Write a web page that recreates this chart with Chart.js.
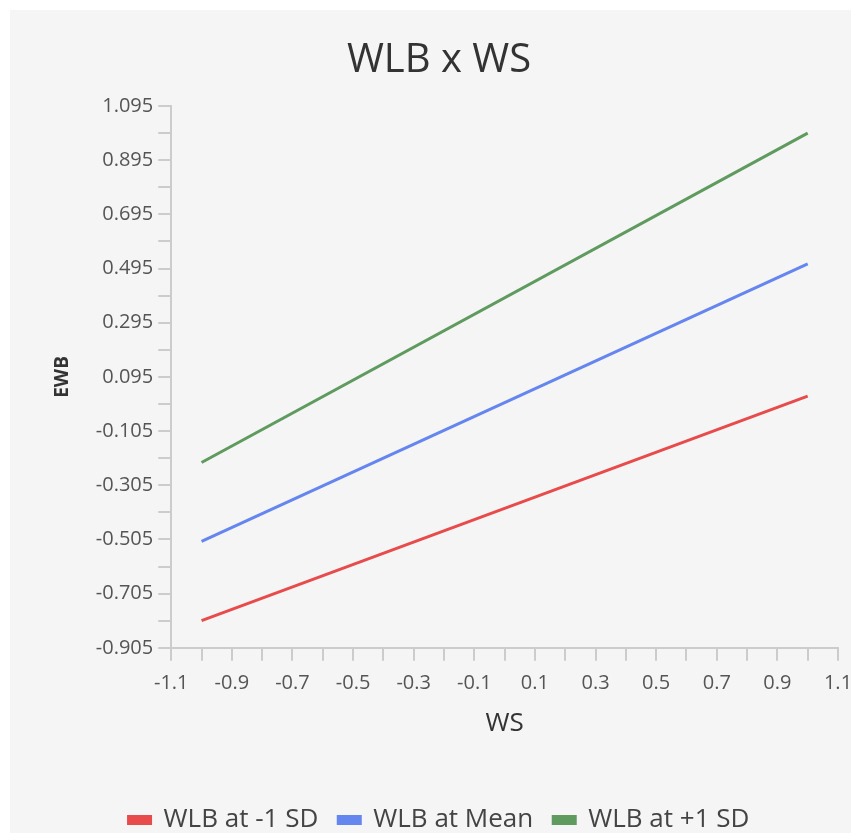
<!DOCTYPE html>
<html>
<head>
<meta charset="utf-8">
<script src="https://cdn.jsdelivr.net/npm/chart.js@4/dist/chart.umd.min.js"></script>
<style>
  html, body { margin: 0; padding: 0; background: #ffffff; overflow: hidden; }
  #wrap { position: absolute; left: 10px; top: 10px; width: 860px; height: 850px; background: #f5f5f5; }
</style>
</head>
<body>
<div id="wrap"><canvas id="myChart" width="860" height="850"></canvas></div>
<script>
// values
var wsValues = [-1, 1];
var lowSD = [-0.805, 0.024];
var meanSD = [-0.512, 0.512];
var highSD = [-0.221, 0.995];

var seriesNames = ['WLB at -1 SD', 'WLB at Mean', 'WLB at +1 SD'];
var seriesColors = ['#e84b4b', '#6585ef', '#5f9a5f'];

var xTickLabels = ['-1.1', '-0.9', '-0.7', '-0.5', '-0.3', '-0.1', '0.1', '0.3', '0.5', '0.7', '0.9', '1.1'];
var yTickLabels = ['-0.905', '-0.705', '-0.505', '-0.305', '-0.105', '0.095', '0.295', '0.495', '0.695', '0.895', '1.095'];

function points(ys) {
  return wsValues.map(function (x, i) { return { x: x, y: ys[i] }; });
}

// ticks every 0.1, only every other one gets a label
function minorTicks(labels) {
  var out = [];
  for (var i = 0; i < labels.length; i++) {
    var v = parseFloat(labels[i]);
    out.push({ value: v });
    if (i < labels.length - 1) out.push({ value: Math.round((v + 0.1) * 1000) / 1000 });
  }
  return out;
}

var seriesData = [lowSD, meanSD, highSD];
var datasets = seriesData.map(function (ys, i) {
  return {
    label: seriesNames[i],
    data: points(ys),
    showLine: true,
    borderColor: seriesColors[i],
    backgroundColor: seriesColors[i],
    borderWidth: 3,
    pointRadius: 0,
    pointHoverRadius: 0
  };
});

var axisColor = '#cccccc';
var ctx = document.getElementById('myChart').getContext('2d');
var myChart = new Chart(ctx, {
  type: 'scatter',
  data: { datasets: datasets },
  options: {
    responsive: false,
    animation: false,
    layout: { padding: { left: 30, right: 32, top: 0, bottom: 17 } },
    plugins: {
      title: {
        display: true,
        text: 'WLB x WS',
        color: '#333333',
        font: { family: 'Open Sans', size: 40, weight: 'normal' },
        padding: { top: 27, bottom: 21 }
      },
      legend: {
        position: 'bottom',
        labels: {
          color: '#444444',
          font: { family: 'Open Sans', size: 26 },
          boxWidth: 22,
          boxHeight: 7,
          padding: 20
        }
      },
      tooltip: { enabled: false }
    },
    scales: {
      x: {
        type: 'linear',
        min: -1.1,
        max: 1.1,
        afterBuildTicks: function (scale) { scale.ticks = minorTicks(xTickLabels); },
        ticks: {
          autoSkip: false,
          maxRotation: 0,
          color: '#555555',
          font: { family: 'Open Sans', size: 20 },
          padding: 10,
          callback: function (value) {
            var s = value.toFixed(1);
            return xTickLabels.indexOf(s) >= 0 ? s : '';
          }
        },
        grid: { drawOnChartArea: false, color: axisColor, tickLength: 13, lineWidth: 2 },
        border: { color: axisColor, width: 2 },
        title: {
          display: true,
          text: 'WS',
          color: '#333333',
          font: { family: 'Open Sans', size: 26 },
          padding: { top: 3, bottom: 48 }
        }
      },
      y: {
        type: 'linear',
        min: -0.905,
        max: 1.095,
        afterBuildTicks: function (scale) { scale.ticks = minorTicks(yTickLabels); },
        ticks: {
          autoSkip: false,
          color: '#555555',
          font: { family: 'Open Sans', size: 20 },
          padding: 5,
          callback: function (value) {
            var s = value.toFixed(3);
            return yTickLabels.indexOf(s) >= 0 ? s : '';
          }
        },
        grid: { drawOnChartArea: false, color: axisColor, tickLength: 13, lineWidth: 2 },
        border: { color: axisColor, width: 2 },
        title: {
          display: true,
          text: 'EWB',
          color: '#333333',
          font: { family: 'Open Sans', size: 19, weight: 'bold' },
          padding: { top: 11, bottom: 17 }
        }
      }
    }
  }
});
</script>
</body>
</html>
